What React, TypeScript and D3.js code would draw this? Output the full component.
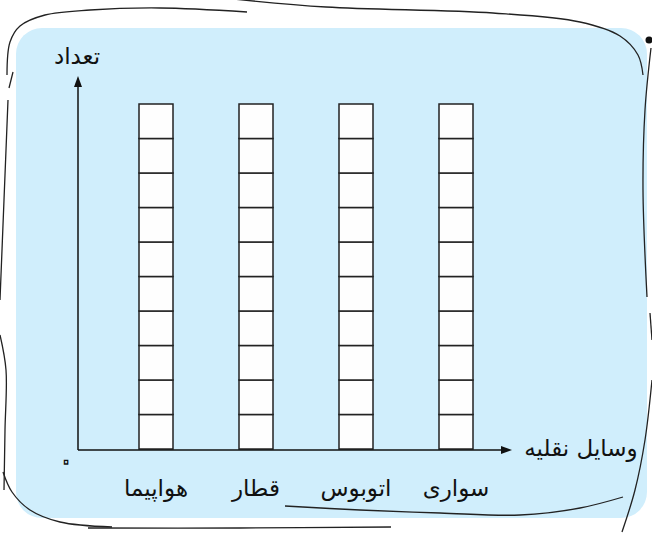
import React from "react";
import * as d3 from "d3";

const categories = ["هواپیما", "قطار", "اتوبوس", "سواری"];
const counts = [10, 10, 10, 10];
const yTitle = "تعداد";
const xTitle = "وسایل نقلیه";
const originLabel = "۰";

const W = 652;
const H = 538;
const FONT = "'DejaVu Sans'";

type P = [number, number];
const sketchLines: P[][] = [
  [[247, 12], [160, 8], [90, 10], [45, 15], [20, 26], [10, 42], [7, 75]],
  [[13, 72], [9, 88]],
  [[8, 100], [4, 200], [0, 300]],
  [[0, 335], [6, 370], [5, 430], [4, 490]],
  [[3, 472], [12, 492], [30, 510], [60, 522], [112, 527]],
  [[88, 528], [240, 528], [391, 527]],
  [[285, 506], [360, 510], [440, 513], [520, 515], [580, 508], [623, 497]],
  [[233, -1], [326, 7], [493, 13], [580, 22], [620, 36], [638, 55], [643, 75]],
  [[651, 48], [645, 110], [643, 190], [647, 297]],
  [[650, 313], [652, 340]],
  [[652, 380], [645, 440], [635, 490], [622, 532]],
];

export default function App() {
  const x = d3
    .scaleBand<string>()
    .domain(categories)
    .range([106, 506])
    .paddingInner(0.66)
    .paddingOuter(0.33);
  const y = d3.scaleLinear().domain([0, 10]).range([449, 104]);
  const line = d3.line<P>().curve(d3.curveCatmullRom.alpha(0.5));

  const x0 = 78;
  const y0 = 450;

  return (
    <svg
      width={W}
      height={H}
      style={{ position: "absolute", left: 0, top: 0, display: "block" }}
    >
      <rect x={16} y={28} width={631} height={490} rx={26} fill="#d0eefc" />
      {sketchLines.map((pts, i) => (
        <path key={i} d={line(pts) || ""} fill="none" stroke="#222" strokeWidth={1.3} />
      ))}
      <circle cx={649} cy={40} r={3.5} fill="#111" />

      {categories.map((c, i) =>
        d3.range(counts[i]).map((k) => (
          <rect
            key={c + k}
            x={x(c)}
            y={y(k + 1)}
            width={x.bandwidth()}
            height={y(k) - y(k + 1)}
            fill="#fefefe"
            stroke="#222"
            strokeWidth={1.5}
          />
        ))
      )}

      <line x1={x0} y1={y0} x2={x0} y2={84} stroke="#111" strokeWidth={1.5} />
      <path d={`M${x0},76 L${x0 - 4},87 L${x0 + 4},87 Z`} fill="#111" />
      <line x1={x0} y1={y0} x2={503} y2={y0} stroke="#111" strokeWidth={1.5} />
      <path d={`M512,${y0} L501,${y0 - 4} L501,${y0 + 4} Z`} fill="#111" />

      <text x={77} y={64} textAnchor="middle" fontFamily={FONT} fontSize={23} fill="#111">
        {yTitle}
      </text>
      <text x={581} y={456} textAnchor="middle" fontFamily={FONT} fontSize={23} fill="#111">
        {xTitle}
      </text>
      <text
        x={66}
        y={471}
        textAnchor="middle"
        fontFamily={FONT}
        fontSize={30}
        fill="#d0eefc"
        stroke="#111"
        strokeWidth={1.3}
      >
        {originLabel}
      </text>
      {categories.map((c) => (
        <text
          key={c}
          x={(x(c) || 0) + x.bandwidth() / 2}
          y={496}
          textAnchor="middle"
          fontFamily={FONT}
          fontSize={23}
          fill="#111"
        >
          {c}
        </text>
      ))}
    </svg>
  );
}
